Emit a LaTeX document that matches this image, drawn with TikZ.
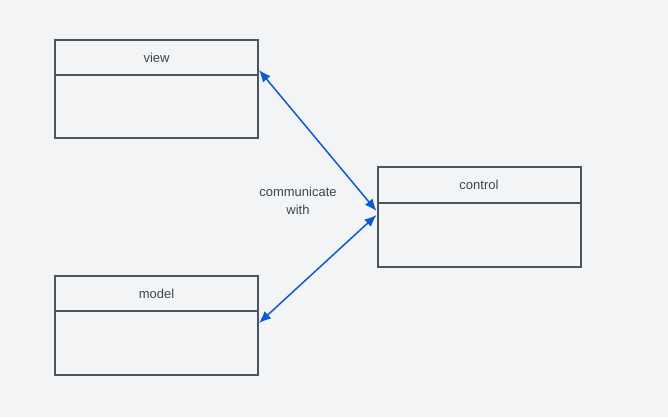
\documentclass[tikz,border=0pt]{standalone}
\usepackage{fontspec}
\setmainfont{Liberation Sans}
\usepackage{tikz}
\usetikzlibrary{positioning, arrows.meta}
\definecolor{boxline}{HTML}{4B555D}
\definecolor{linkblue}{HTML}{0B5CD0}
\definecolor{bgcol}{HTML}{F3F4F6}
\definecolor{txtgray}{HTML}{3C4650}
\tikzstyle{head} = [rectangle, 
minimum width=203pt, 
minimum height=35pt, 
text centered, 
inner sep=0pt,
draw=boxline, 
line width=2pt,
text=txtgray,
font=\fontsize{13}{16}\selectfont]
\tikzstyle{body} = [rectangle, 
minimum width=203pt, 
minimum height=63pt, 
inner sep=0pt,
draw=boxline, 
line width=2pt]
\tikzstyle{arrow} = [line width=1.5pt,{Latex[length=12pt,width=10pt]}-{Latex[length=12pt,width=10pt]},draw=linkblue]

\begin{document}
\begin{tikzpicture}[x=1pt, y=1pt]

\fill [bgcol] (0,0) rectangle (668,-417);
\useasboundingbox (0,0) rectangle (668,-417);

\node (viewhead) [head] at (156.5,-57.5) {view};
\node (viewbody) [body, below=-2pt of viewhead] {};

\node (ctrlhead) [head, minimum height=36pt] at (479,-185) {control};
\node (ctrlbody) [body, below=-2pt of ctrlhead, minimum height=64pt] {};

\node (modelhead) [head] at (156.5,-293.5) {model};
\node (modelbody) [body, below=-2pt of modelhead, minimum height=64pt] {};

\node (talk) [align=center, text=txtgray, font=\fontsize{13}{18}\selectfont] at (298,-201) {communicate\\with};

\draw [arrow] ([yshift=6pt]viewhead.south east) -- ([yshift=-7pt]ctrlhead.south west);
\draw [arrow] ([yshift=-11pt]ctrlhead.south west) -- ([yshift=-11pt]modelhead.south east);

\end{tikzpicture}
\end{document}
